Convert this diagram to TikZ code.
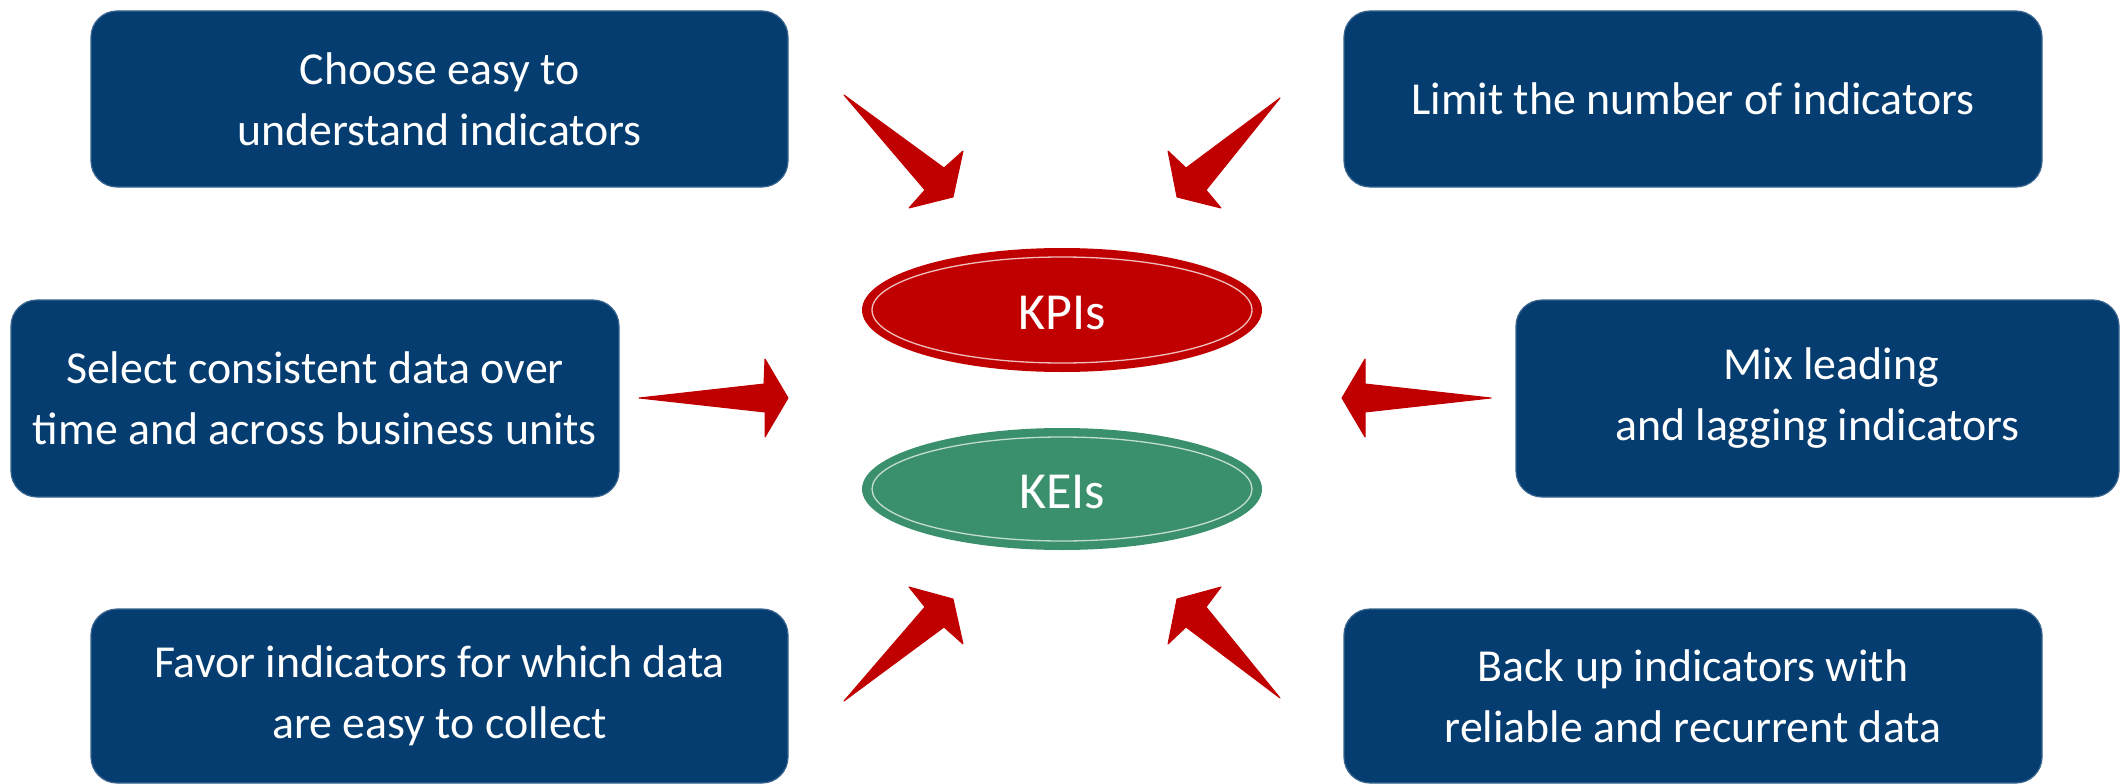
\documentclass[tikz,border=0pt]{standalone}
\usepackage{fontspec}
\setmainfont{Carlito}
\usetikzlibrary{shapes.geometric}
\definecolor{navy}{HTML}{063D70}
\definecolor{kred}{HTML}{C00000}
\definecolor{kgreen}{HTML}{3A8F6C}
\begin{document}
\begin{tikzpicture}[x=1pt,y=-1pt,
  tbox/.style={fill=navy, draw=navy!80!white, line width=1.2pt, rounded corners=26pt},
  btext/.style={text=white, align=center, font=\fontsize{45.8}{61}\selectfont},
  oval/.style={ellipse, text=white, font=\fontsize{52}{60}\selectfont},
  arr/.style={fill=kred, draw=kred, line width=1pt, line join=round}]
\useasboundingbox (0,0) rectangle (2123,784);
% boxes
\path[tbox] (91,11) rectangle (788,187);
\node[btext] (tl) at (439.5,99) {Choose easy to\\understand indicators};
\path[tbox] (1344,11) rectangle (2042,187);
\node[btext] (tr) at (1693,99) {Limit the number of indicators};
\path[tbox] (11,300) rectangle (619,497);
\node[btext] (ml) at (315,398.5) {Select consistent data over\\time and across business units};
\path[tbox] (1516,300) rectangle (2119,497);
\node[btext] (mr) at (1817.5,398.5) {\hspace*{0.6em}Mix leading\\and lagging indicators};
\path[tbox] (91,609) rectangle (788,783);
\node[btext] (bl) at (439.5,696) {Favor indicators for which data\\are easy to collect};
\path[tbox] (1344,609) rectangle (2042,783);
\node[btext] (br) at (1693,696) {Back up indicators with\\reliable and recurrent data};
% ellipses
\fill[kred] (1062,310) ellipse [x radius=200, y radius=62];
\draw[white!75!kred, line width=1.3pt] (1062,310) ellipse [x radius=190, y radius=53];
\node[oval] (kpi) at (1062,313) {KPIs};
\fill[kgreen] (1062,489) ellipse [x radius=200, y radius=61];
\draw[white!70!kgreen, line width=1.3pt] (1062,489) ellipse [x radius=190, y radius=52];
\node[oval] (kei) at (1062,492) {KEIs};
% arrows
\coordinate (a1) at (844,95);
\draw[arr] (a1) -- (944,168) -- (963,151) -- (953,197) -- (909,208) -- (925,190) -- cycle;
\coordinate (a2) at (1280,98);
\draw[arr] (a2) -- (1186,168) -- (1168,151) -- (1177,197) -- (1221,208) -- (1206,190) -- cycle;
\coordinate (a3) at (639,398);
\draw[arr] (a3) -- (764,384) -- (765,359) -- (788,398) -- (765,437) -- (765,412) -- cycle;
\coordinate (a4) at (1491,398);
\draw[arr] (a4) -- (1365,384) -- (1365,359) -- (1342,398) -- (1365,437) -- (1365,412) -- cycle;
\coordinate (a5) at (844,701);
\draw[arr] (a5) -- (925,607) -- (909,587) -- (953,599) -- (963,644) -- (944,627) -- cycle;
\coordinate (a6) at (1280,698);
\draw[arr] (a6) -- (1206,607) -- (1221,587) -- (1177,599) -- (1168,644) -- (1186,627) -- cycle;
\end{tikzpicture}
\end{document}
